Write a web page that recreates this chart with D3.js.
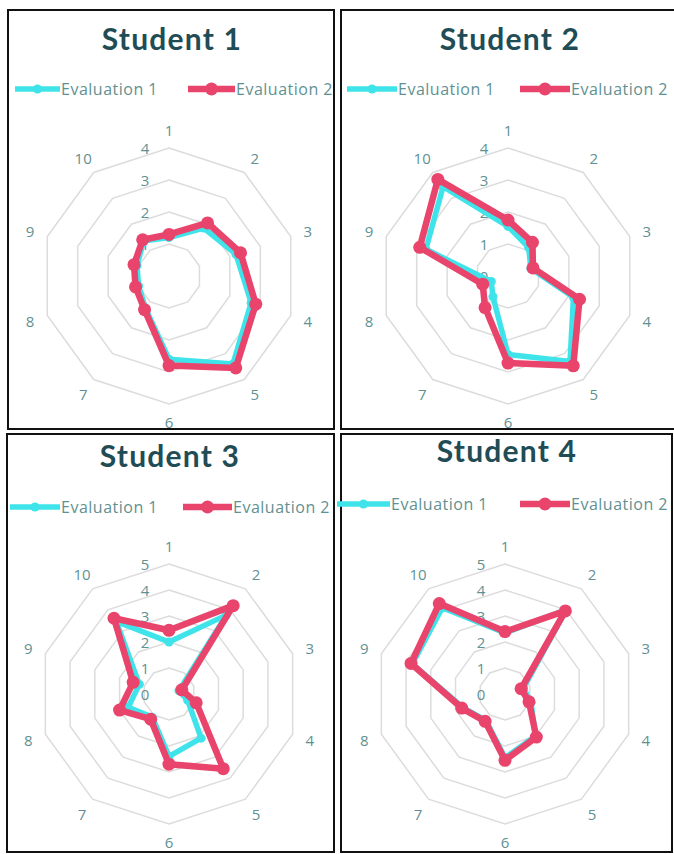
<!DOCTYPE html>
<html>
<head>
<meta charset="utf-8">
<script src="https://cdn.jsdelivr.net/npm/d3@7"></script>
<style>
  html, body { margin: 0; padding: 0; background: #ffffff; }
  svg { display: block; }
</style>
</head>
<body>
<svg id="chart" width="674" height="854"></svg>
<script>
// ---- data ----
const axes = ["1", "2", "3", "4", "5", "6", "7", "8", "9", "10"];
const titles = ["Student 1", "Student 2", "Student 3", "Student 4"];
const seriesNames = ["Evaluation 1", "Evaluation 2"];
const scaleMax = [4, 4, 5, 5];
const ringTicks1 = [0, 1, 2, 3, 4];
const ringTicks2 = [0, 1, 2, 3, 4, 5];

const s1Eval1 = [1.2, 1.85, 2.2, 2.7, 3.4, 2.6, 1.25, 1.0, 1.05, 1.35];
const s1Eval2 = [1.3, 2.05, 2.35, 2.85, 3.55, 2.8, 1.3, 1.1, 1.15, 1.4];
const s2Eval1 = [1.55, 1.1, 0.75, 2.15, 3.3, 2.45, 0.8, 0.55, 2.7, 3.45];
const s2Eval2 = [1.75, 1.3, 0.82, 2.35, 3.47, 2.72, 1.22, 0.83, 2.9, 3.73];
const s3Eval1 = [2.0, 3.75, 0.4, 0.75, 2.1, 2.4, 1.1, 1.65, 1.2, 3.45];
const s3Eval2 = [2.45, 4.2, 0.52, 1.1, 3.55, 2.7, 1.2, 2.0, 1.45, 3.6];
const s4Eval1 = [2.35, 4.0, 0.75, 1.05, 2.0, 2.45, 1.25, 1.7, 3.75, 4.1];
const s4Eval2 = [2.4, 3.95, 0.65, 0.97, 2.05, 2.55, 1.3, 1.75, 3.8, 4.3];

const evalData = [[s1Eval1, s1Eval2], [s2Eval1, s2Eval2], [s3Eval1, s3Eval2], [s4Eval1, s4Eval2]];
const ticksPerPanel = [ringTicks1, ringTicks1, ringTicks2, ringTicks2];

// ---- layout (positions / styles) ----
const panels = [
  { frame: [8, 10, 334, 429],  title: [172, 38],  legY: 89,  leg: [15, 60, 188, 235],  cx: 169, cy: 276, R: 128, showZero: false },
  { frame: [341, 10, 680, 429], title: [510, 38], legY: 89,  leg: [347, 397, 520, 570], cx: 508, cy: 276, R: 128, showZero: true },
  { frame: [7, 434, 334, 852], title: [170, 455], legY: 507, leg: [10, 60, 183, 232],  cx: 169, cy: 694, R: 130, showZero: true },
  { frame: [341, 434, 672, 852], title: [507, 450], legY: 504, leg: [337, 390, 520, 570], cx: 505, cy: 694, R: 130, showZero: true }
];
const colors = ["#3fe3ea", "#e8446c"];
const lineW = [5.5, 6.5];
const markR = [4.5, 6.5];
const textColor = "#5f9192";
const titleColor = "#1f4c55";
const gridColor = "#dcdcdc";

const svg = d3.select("#chart");
const angle = d3.scaleLinear().domain([0, axes.length]).range([0, 2 * Math.PI]);

panels.forEach((p, i) => {
  const g = svg.append("g");
  const [x0, y0, x1, y1] = p.frame;
  g.append("rect").attr("x", x0).attr("y", y0).attr("width", x1 - x0).attr("height", y1 - y0)
    .attr("fill", "#ffffff").attr("stroke", "#111").attr("stroke-width", 2);

  g.append("text").attr("x", p.title[0]).attr("y", p.title[1])
    .attr("text-anchor", "middle").attr("dominant-baseline", "central")
    .attr("font-family", "Lato, 'Open Sans', sans-serif").attr("font-weight", 700)
    .attr("font-size", 30).attr("letter-spacing", 1.2).attr("fill", titleColor).text(titles[i]);

  // legend
  [0, 1].forEach(s => {
    const xa = p.leg[s * 2], xb = p.leg[s * 2 + 1];
    g.append("line").attr("x1", xa).attr("x2", xb).attr("y1", p.legY).attr("y2", p.legY)
      .attr("stroke", colors[s]).attr("stroke-width", lineW[s]);
    g.append("circle").attr("cx", (xa + xb) / 2).attr("cy", p.legY).attr("r", markR[s])
      .attr("fill", colors[s]);
    g.append("text").attr("x", xb + 1).attr("y", p.legY).attr("dominant-baseline", "central")
      .attr("font-family", "'Open Sans', sans-serif").attr("font-size", 16)
      .attr("letter-spacing", 0.5)
      .attr("fill", textColor).text(seriesNames[s]);
  });

  const r = d3.scaleLinear().domain([0, scaleMax[i]]).range([0, p.R]);
  const pc = g.append("g").attr("transform", `translate(${p.cx},${p.cy})`);
  const radial = d3.lineRadial().angle((d, k) => angle(k)).radius(d => r(d)).curve(d3.curveLinearClosed);

  // grid rings
  ticksPerPanel[i].filter(t => t > 0).forEach(t => {
    pc.append("path").attr("d", radial(axes.map(() => t)))
      .attr("fill", "none").attr("stroke", gridColor).attr("stroke-width", 1.5);
  });

  // axis category labels
  axes.forEach((a, k) => {
    const ang = angle(k);
    const rr = p.R + 18;
    pc.append("text").attr("x", rr * Math.sin(ang)).attr("y", -rr * Math.cos(ang))
      .attr("text-anchor", "middle").attr("dominant-baseline", "central")
      .attr("font-family", "'Open Sans', sans-serif").attr("font-size", 15)
      .attr("fill", textColor).text(a);
  });

  // ring value labels
  ticksPerPanel[i].forEach(t => {
    if (t === 0 && !p.showZero) return;
    pc.append("text").attr("x", -24).attr("y", -r(t))
      .attr("text-anchor", "middle").attr("dominant-baseline", "central")
      .attr("font-family", "'Open Sans', sans-serif").attr("font-size", 15)
      .attr("fill", textColor).text(String(t));
  });

  // series
  evalData[i].forEach((vals, s) => {
    pc.append("path").attr("d", radial(vals)).attr("fill", "none")
      .attr("stroke", colors[s]).attr("stroke-width", lineW[s]).attr("stroke-linejoin", "round");
    pc.selectAll(null).data(vals).enter().append("circle")
      .attr("cx", (d, k) => r(d) * Math.sin(angle(k)))
      .attr("cy", (d, k) => -r(d) * Math.cos(angle(k)))
      .attr("r", markR[s]).attr("fill", colors[s]);
  });
});
</script>
</body>
</html>
